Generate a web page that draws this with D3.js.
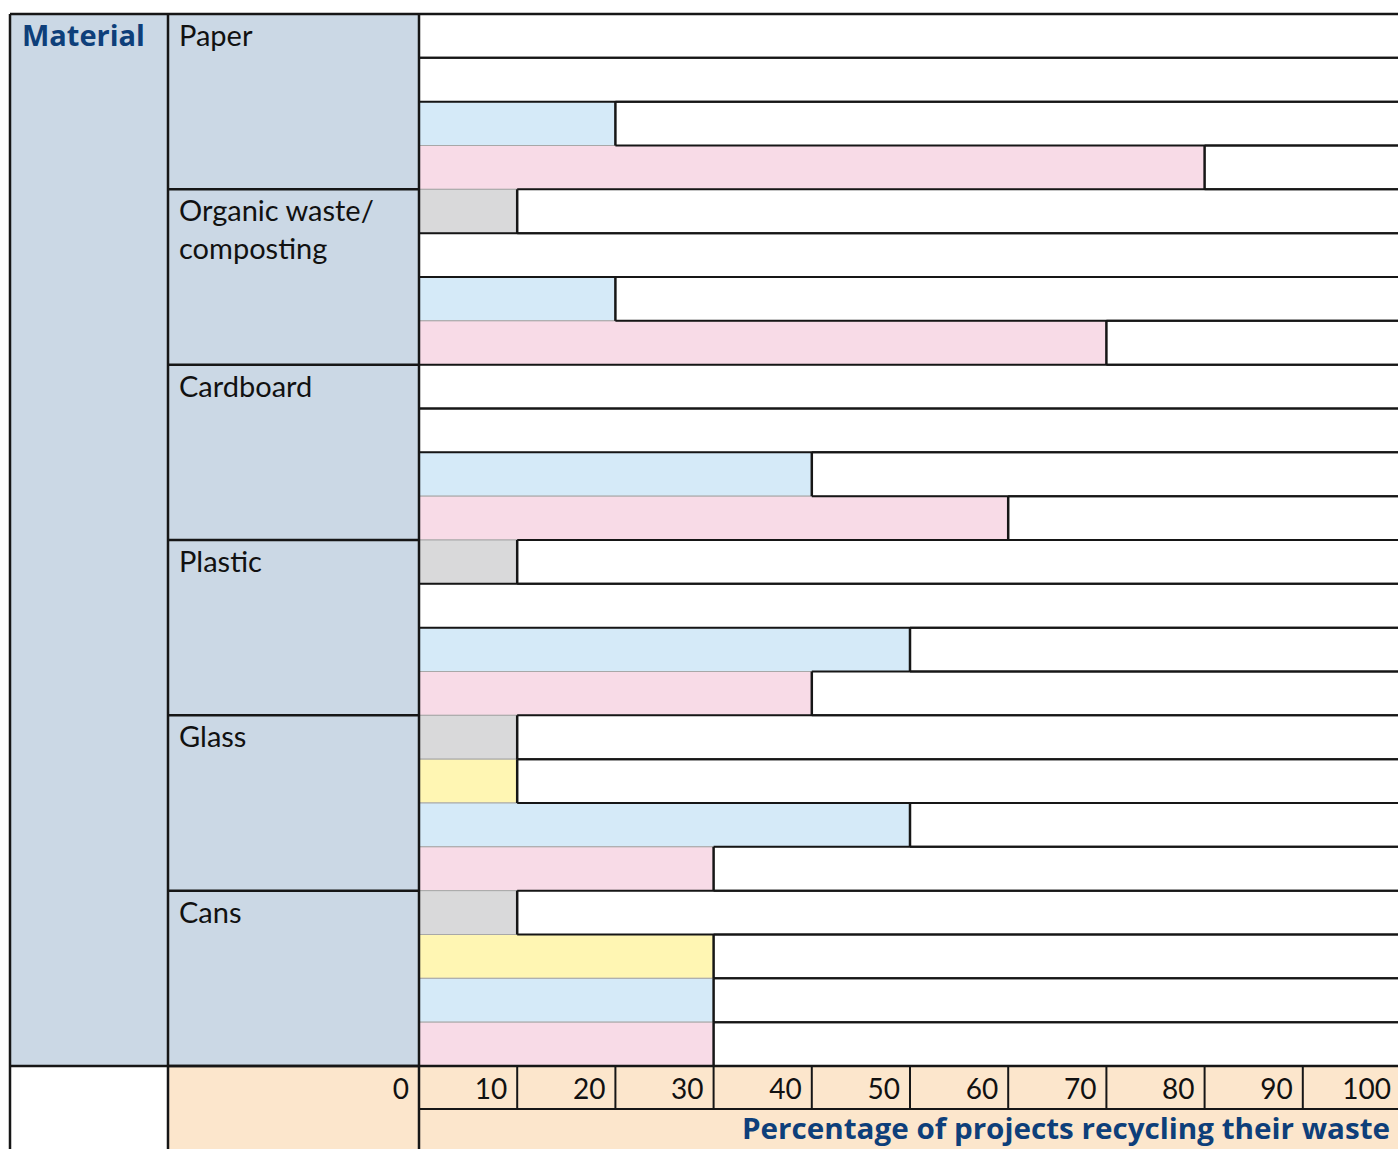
<!DOCTYPE html>
<html>
<head>
<meta charset="utf-8">
<script src="https://cdn.jsdelivr.net/npm/d3@7"></script>
<style>
  body { margin: 0; background: #fff; }
  text { font-family: Lato, "Open Sans", sans-serif; }
  text.bold { font-family: "Open Sans", Lato, sans-serif; font-weight: bold; }
</style>
</head>
<body>
<svg width="1398" height="1149"></svg>
<script>
// chart values
var materials = ["Paper", "Organic waste/\ncomposting", "Cardboard", "Plastic", "Glass", "Cans"];
var seriesNames = ["grey", "yellow", "blue", "pink"];
var greyVals   = [0, 10, 0, 10, 10, 10];
var yellowVals = [0, 0, 0, 0, 10, 30];
var blueVals   = [20, 20, 40, 50, 50, 30];
var pinkVals   = [80, 70, 60, 40, 30, 30];
var ticks = [0, 10, 20, 30, 40, 50, 60, 70, 80, 90, 100];
var headerLabel = "Material";
var axisTitle = "Percentage of projects recycling their waste";

var colors = { grey: "#d9d9da", yellow: "#fff6b3", blue: "#d5eaf8", pink: "#f8dbe7" };
var values = { grey: greyVals, yellow: yellowVals, blue: blueVals, pink: pinkVals };

var svg = d3.select("svg");
var leftX = 10, col1 = 168, col2 = 419, rightX = 1398;
var topY = 14, plotBottom = 1066, axisBottom = 1109, bottomY = 1149;
var lineCol = "#161616";
var blueText = "#0e3f7a";

var x = d3.scaleLinear().domain([0, 100]).range([col2, 1401]);
var yGroup = d3.scaleBand().domain(d3.range(materials.length)).range([topY, plotBottom]);
var ySub = d3.scaleBand().domain(seriesNames).range([0, yGroup.bandwidth()]);

// backgrounds
svg.append("rect").attr("x", leftX).attr("y", topY).attr("width", col2 - leftX).attr("height", plotBottom - topY).attr("fill", "#cbd8e5");
svg.append("rect").attr("x", col1).attr("y", plotBottom).attr("width", rightX - col1).attr("height", bottomY - plotBottom).attr("fill", "#fce6cc");

// bars
var rows = [];
materials.forEach(function(m, i) {
  seriesNames.forEach(function(s) {
    rows.push({ g: i, s: s, v: values[s][i] });
  });
});

svg.selectAll("rect.bar").data(rows.filter(function(d) { return d.v > 0; }))
  .enter().append("rect")
  .attr("class", "bar")
  .attr("x", x(0))
  .attr("y", function(d) { return yGroup(d.g) + ySub(d.s); })
  .attr("width", function(d) { return x(d.v) - x(0); })
  .attr("height", ySub.bandwidth())
  .attr("fill", function(d) { return colors[d.s]; })
  .attr("stroke", "#a8a8a8")
  .attr("stroke-width", 1);

// horizontal separators in plot
svg.selectAll("line.sep").data(rows)
  .enter().append("line")
  .attr("x1", function(d) { return x(d.v); }).attr("x2", rightX)
  .attr("y1", function(d) { return yGroup(d.g) + ySub(d.s) + ySub.bandwidth(); })
  .attr("y2", function(d) { return yGroup(d.g) + ySub(d.s) + ySub.bandwidth(); })
  .attr("stroke", lineCol).attr("stroke-width", 2);
svg.selectAll("line.sept").data(rows)
  .enter().append("line")
  .attr("x1", function(d) { return x(d.v); }).attr("x2", rightX)
  .attr("y1", function(d) { return yGroup(d.g) + ySub(d.s); })
  .attr("y2", function(d) { return yGroup(d.g) + ySub(d.s); })
  .attr("stroke", lineCol).attr("stroke-width", 2);

// bar end lines
svg.selectAll("line.end").data(rows.filter(function(d) { return d.v > 0; }))
  .enter().append("line")
  .attr("x1", function(d) { return x(d.v); })
  .attr("x2", function(d) { return x(d.v); })
  .attr("y1", function(d) { return yGroup(d.g) + ySub(d.s); })
  .attr("y2", function(d) { return yGroup(d.g) + ySub(d.s) + ySub.bandwidth(); })
  .attr("stroke", lineCol).attr("stroke-width", 2.5);

// group separators in label column
svg.selectAll("line.grp").data(d3.range(materials.length))
  .enter().append("line")
  .attr("x1", col1).attr("x2", col2)
  .attr("y1", function(i) { return yGroup(i) + yGroup.bandwidth(); })
  .attr("y2", function(i) { return yGroup(i) + yGroup.bandwidth(); })
  .attr("stroke", lineCol).attr("stroke-width", 2.5);

// material labels
svg.selectAll("text.mat").data(materials)
  .enter().append("text")
  .attr("class", "mat")
  .attr("x", col1 + 11)
  .attr("y", function(d, i) { return yGroup(i) + 32; })
  .attr("font-size", 29)
  .attr("fill", "#111")
  .each(function(d) {
    var t = d3.select(this);
    d.split("\n").forEach(function(part, k) {
      t.append("tspan").attr("x", col1 + 11).attr("dy", k === 0 ? 0 : 38).text(part);
    });
  });

svg.append("text").attr("class", "bold").attr("x", leftX + 12).attr("y", topY + 32)
  .attr("font-size", 29).attr("fill", blueText)
  .text(headerLabel);

// axis row
svg.selectAll("line.tick").data(ticks.slice(1))
  .enter().append("line")
  .attr("x1", function(d) { return x(d); }).attr("x2", function(d) { return x(d); })
  .attr("y1", plotBottom).attr("y2", axisBottom)
  .attr("stroke", lineCol).attr("stroke-width", 2);

svg.selectAll("text.tick").data(ticks)
  .enter().append("text")
  .attr("x", function(d) { return x(d) - 10; })
  .attr("y", plotBottom + 33)
  .attr("text-anchor", "end")
  .attr("font-size", 28)
  .attr("fill", "#111")
  .text(function(d) { return d; });

svg.append("line").attr("x1", col2).attr("x2", rightX).attr("y1", axisBottom).attr("y2", axisBottom)
  .attr("stroke", lineCol).attr("stroke-width", 2);

svg.append("text").attr("class", "bold").attr("x", 1390).attr("y", bottomY - 10)
  .attr("text-anchor", "end").attr("font-size", 28.5).attr("fill", blueText)
  .attr("textLength", 648).attr("lengthAdjust", "spacingAndGlyphs")
  .text(axisTitle);

// frame lines
[[leftX, topY, rightX, topY], [leftX, plotBottom, rightX, plotBottom],
 [leftX, topY, leftX, bottomY], [col1, topY, col1, bottomY], [col2, topY, col2, bottomY]]
  .forEach(function(l) {
    svg.append("line").attr("x1", l[0]).attr("y1", l[1]).attr("x2", l[2]).attr("y2", l[3])
      .attr("stroke", lineCol).attr("stroke-width", 2.5);
  });
</script>
</body>
</html>
